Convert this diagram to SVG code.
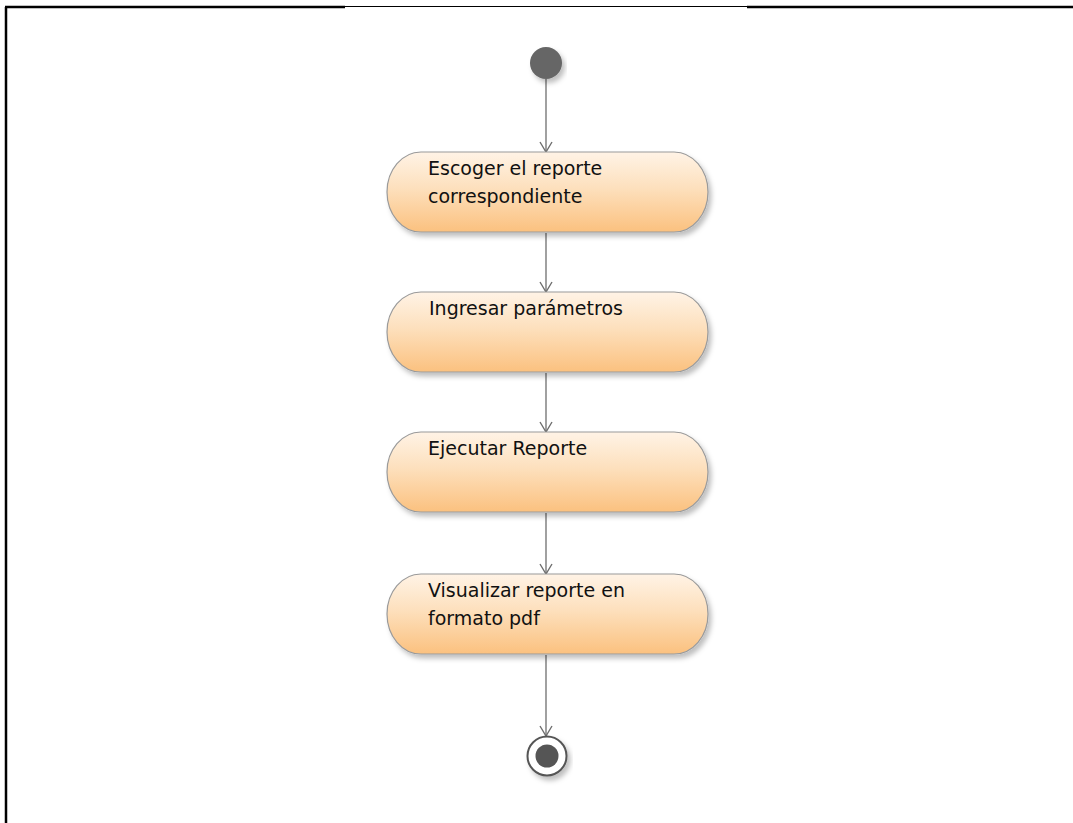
<svg xmlns="http://www.w3.org/2000/svg" width="1073" height="823" viewBox="0 0 1073 823">
  <style>
    .action { fill: url(#actionFill); stroke: #9a9a9a; stroke-width: 1.2; filter: url(#shadow); }
    .label { font-family: "DejaVu Sans", "Liberation Sans", sans-serif; font-size: 19px; fill: #111; }
    .flow { stroke: #6e6e6e; stroke-width: 1.3; fill: none; marker-end: url(#openArrow); }
    .frame { stroke: #000; stroke-width: 2.5; fill: none; }
  </style>
  <defs>
    <linearGradient id="actionFill" x1="0" y1="0" x2="0" y2="1">
      <stop offset="0" stop-color="#fff3e6"/>
      <stop offset="0.45" stop-color="#fde0bd"/>
      <stop offset="1" stop-color="#fbc17f"/>
    </linearGradient>
    <filter id="shadow" x="-10%" y="-20%" width="125%" height="150%">
      <feDropShadow dx="3" dy="4" stdDeviation="2.5" flood-color="#000" flood-opacity="0.25"/>
    </filter>
    <!-- open V arrowhead, drawn pointing along +x -->
    <marker id="openArrow" viewBox="0 0 14 14" refX="13" refY="7" markerWidth="14" markerHeight="14" markerUnits="userSpaceOnUse" orient="auto">
      <path d="M3,1 L13,7 L3,13" fill="none" stroke="#6e6e6e" stroke-width="1.4"/>
    </marker>
  </defs>

  <!-- page frame -->
  <g id="frame">
    <line class="frame" x1="6" y1="7" x2="6" y2="823"/>
    <line class="frame" x1="5" y1="7" x2="345" y2="7"/>
    <line x1="345" y1="6.5" x2="747" y2="6.5" stroke="#000" stroke-width="1"/>
    <line class="frame" x1="747" y1="7" x2="1073" y2="7"/>
  </g>

  <!-- control flow -->
  <g id="connectors">
    <line class="flow" x1="546" y1="79" x2="546" y2="152"/>
    <line class="flow" x1="546" y1="233" x2="546" y2="292"/>
    <line class="flow" x1="546" y1="373" x2="546" y2="432"/>
    <line class="flow" x1="546" y1="513" x2="546" y2="574"/>
    <line class="flow" x1="546" y1="655" x2="546" y2="736"/>
  </g>

  <g id="start">
    <circle cx="546" cy="63" r="16" fill="#666" filter="url(#shadow)"/>
  </g>

  <g id="escoger">
    <rect class="action" x="387" y="152" width="321" height="80" rx="34" ry="40"/>
    <text class="label" x="428" y="175">Escoger el reporte</text>
    <text class="label" x="428" y="203">correspondiente</text>
  </g>

  <g id="ingresar">
    <rect class="action" x="387" y="292" width="321" height="80" rx="34" ry="40"/>
    <text class="label" x="429" y="315">Ingresar parámetros</text>
  </g>

  <g id="ejecutar">
    <rect class="action" x="387" y="432" width="321" height="80" rx="34" ry="40"/>
    <text class="label" x="428" y="455">Ejecutar Reporte</text>
  </g>

  <g id="visualizar">
    <rect class="action" x="387" y="574" width="321" height="80" rx="34" ry="40"/>
    <text class="label" x="428" y="597">Visualizar reporte en</text>
    <text class="label" x="428" y="625">formato pdf</text>
  </g>

  <g id="end">
    <circle cx="547" cy="756" r="19.5" fill="#fff" stroke="#555" stroke-width="2" filter="url(#shadow)"/>
    <circle cx="547" cy="756" r="11.5" fill="#555"/>
  </g>
</svg>
